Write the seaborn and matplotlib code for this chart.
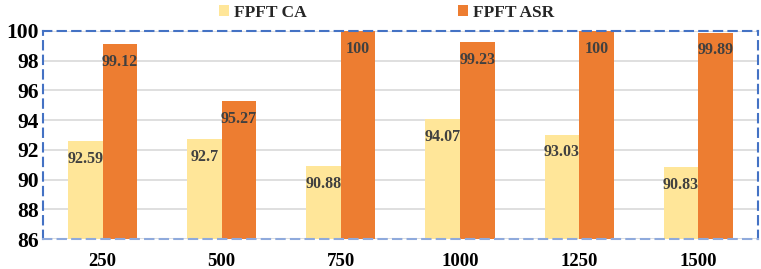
import pandas as pd
import seaborn as sns
import matplotlib.pyplot as plt

sizes = ['250', '500', '750', '1000', '1250', '1500']
fpft_ca = [92.59, 92.7, 90.88, 94.07, 93.03, 90.83]
fpft_asr = [99.12, 95.27, 100, 99.23, 100, 99.89]
ca_labels = ['92.59', '92.7', '90.88', '94.07', '93.03', '90.83']
asr_labels = ['99.12', '95.27', '100', '99.23', '100', '99.89']

df = pd.DataFrame({
    'size': sizes * 2,
    'value': fpft_ca + fpft_asr,
    'model': ['FPFT CA'] * 6 + ['FPFT ASR'] * 6,
})

sns.set_theme(style='white')
plt.rcParams['font.family'] = ['Liberation Serif', 'DejaVu Serif']
plt.rcParams['font.weight'] = 'bold'

fig = plt.figure(figsize=(7.61, 2.69), dpi=100)
ax = fig.add_axes([0.0565, 0.1115, 0.9395, 0.7735])

sns.barplot(data=df, x='size', y='value', hue='model', order=sizes,
            palette={'FPFT CA': '#FFE699', 'FPFT ASR': '#ED7D31'},
            saturation=1, width=0.58, linewidth=0, ax=ax, zorder=2)

ax.set_ylim(86, 100)
ax.set_yticks(range(86, 101, 2))
ax.yaxis.grid(True, color='#D9D9D9', linewidth=1.2, zorder=0)
ax.set_axisbelow(True)
ax.set_xlabel('')
ax.set_ylabel('')
ax.tick_params(axis='both', length=0, colors='black')
ax.tick_params(axis='x', pad=10, labelsize=13.5)
ax.tick_params(axis='y', pad=3, labelsize=15.5)
for lab in ax.get_xticklabels() + ax.get_yticklabels():
    lab.set_fontweight('bold')

for sp in ax.spines.values():
    sp.set_visible(True)
    sp.set_linestyle((0, (4, 3)))
    sp.set_color('#4472C4')
    sp.set_linewidth(1.5)
ax.spines['bottom'].set_color('#8FAADC')

for cont, labs in zip(ax.containers, [ca_labels, asr_labels]):
    for bar, t in zip(cont, labs):
        ax.annotate(t, (bar.get_x() + bar.get_width() / 2, bar.get_height()),
                    xytext=(0, -7), textcoords='offset points',
                    ha='center', va='top', fontsize=11.5, fontweight='bold',
                    color='#404040', zorder=3)

ax.legend_.remove()
handles, labels = ax.get_legend_handles_labels()
fig.legend(handles, labels, loc='center', bbox_to_anchor=(0.508, 0.952),
           ncol=2, frameon=False, handlelength=0.6, handleheight=0.6,
           handletextpad=0.3, columnspacing=8.7,
           prop={'size': 12.5, 'weight': 'bold'})

fig.savefig('out.png', dpi=100)
